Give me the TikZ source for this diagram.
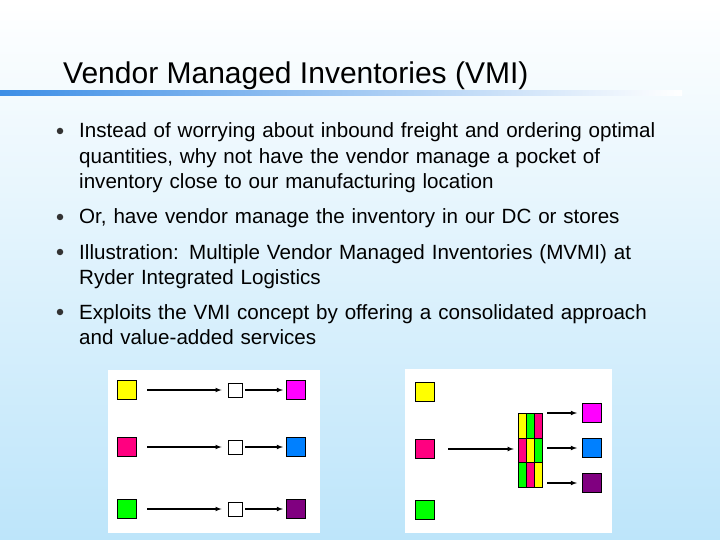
\documentclass[tikz,border=0pt]{standalone}
\usepackage{fontspec}
\setmainfont{Liberation Sans}
\begin{document}
\begin{tikzpicture}[x=1pt,y=-1pt,
  sq/.style={draw=black,line width=1pt,minimum size=19pt,inner sep=0pt},
  wsq/.style={draw=black,line width=0.8pt,fill=white,minimum size=14pt,inner sep=0pt},
  arr/.style={-latex,line width=1.1pt},
  btxt/.style={anchor=base west,inner sep=0pt,font=\fontsize{20.6}{25.5}\selectfont,align=left,text width=640pt},
  dot/.style={circle,fill=black!80,inner sep=0pt,minimum size=6.5pt}]
\definecolor{ylw}{HTML}{FFFF00}\definecolor{pnk}{HTML}{FF0080}\definecolor{grn}{HTML}{00FF00}
\definecolor{mag}{HTML}{FF00FF}\definecolor{blu}{HTML}{0080FF}\definecolor{pur}{HTML}{800080}
\definecolor{bgb}{HTML}{BDE5FA}\definecolor{ttl}{HTML}{3D8EE6}
\useasboundingbox (0,0) rectangle (720,540);
\shade[top color=white,bottom color=bgb] (0,0) rectangle (720,540);
\shade[left color=ttl,right color=white] (0,91) rectangle (682,96);
\node[anchor=base west,inner sep=0pt,font=\fontsize{30}{34}\selectfont] (title) at (63,84) {Vendor Managed Inventories (VMI)};
\node[dot] (b1) at (60,131) {};
\node[btxt] (t1) at (79,138) {Instead of worrying about inbound freight and ordering optimal\\quantities, why not have the vendor manage a pocket of\\inventory close to our manufacturing location};
\node[dot] (b2) at (60,217) {};
\node[btxt] (t2) at (79,224) {Or, have vendor manage the inventory in our DC or stores};
\node[dot] (b3) at (60,252) {};
\node[btxt] (t3) at (79,259) {Illustration: Multiple Vendor Managed Inventories (MVMI) at\\Ryder Integrated Logistics};
\node[dot] (b4) at (60,312) {};
\node[btxt] (t4) at (79,319) {Exploits the VMI concept by offering a consolidated approach\\and value-added services};
% left panel
\fill[white] (108,370) rectangle (320,533);
\node[sq,fill=ylw] (l1) at (127,390) {};
\node[sq,fill=pnk] (l2) at (127,447) {};
\node[sq,fill=grn] (l3) at (127,509) {};
\node[wsq] (w1) at (235,390) {};
\node[wsq] (w2) at (235,447) {};
\node[wsq] (w3) at (235,509) {};
\node[sq,fill=mag] (r1) at (296,390) {};
\node[sq,fill=blu] (r2) at (296,447) {};
\node[sq,fill=pur] (r3) at (296,509) {};
\foreach \i in {1,2,3}{
  \draw[arr] ([xshift=10pt]l\i.east) -- ([xshift=-6pt]w\i.west);
  \draw[arr] ([xshift=3pt]w\i.east) -- ([xshift=-3pt]r\i.west);}
% right panel
\fill[white] (405,369) rectangle (612,533);
\node[sq,fill=ylw] (m1) at (425,392) {};
\node[sq,fill=pnk] (m2) at (425,449) {};
\node[sq,fill=grn] (m3) at (425,510) {};
\foreach \r/\a/\b/\c in {0/ylw/grn/pnk,1/pnk/ylw/grn,2/grn/pnk/ylw}{
  \fill[\a] (519,{414+\r*24.33}) rectangle (526.67,{414+(\r+1)*24.33});
  \fill[\b] (526.67,{414+\r*24.33}) rectangle (534.33,{414+(\r+1)*24.33});
  \fill[\c] (534.33,{414+\r*24.33}) rectangle (542,{414+(\r+1)*24.33});}
\foreach \x in {526.67,534.33}{\draw[line width=0.9pt] (\x,414) -- (\x,487);}
\foreach \y in {438.33,462.67}{\draw[line width=0.9pt] (519,\y) -- (542,\y);}
\node[inner sep=0pt,minimum width=23pt,minimum height=73pt] (stack) at (530.5,450.5) {};
\draw[line width=1pt] (stack.south west) rectangle (stack.north east);
\node[sq,fill=mag] (s1) at (592,413) {};
\node[sq,fill=blu] (s2) at (592,448) {};
\node[sq,fill=pur] (s3) at (592,483) {};
\draw[arr] ([xshift=13pt]m2.east) -- ([xshift=-5pt]stack.west|-m2);
\foreach \i in {1,2,3}{\draw[arr] ([xshift=5pt]stack.east|-s\i) -- ([xshift=-5pt]s\i.west);}
\end{tikzpicture}
\end{document}
